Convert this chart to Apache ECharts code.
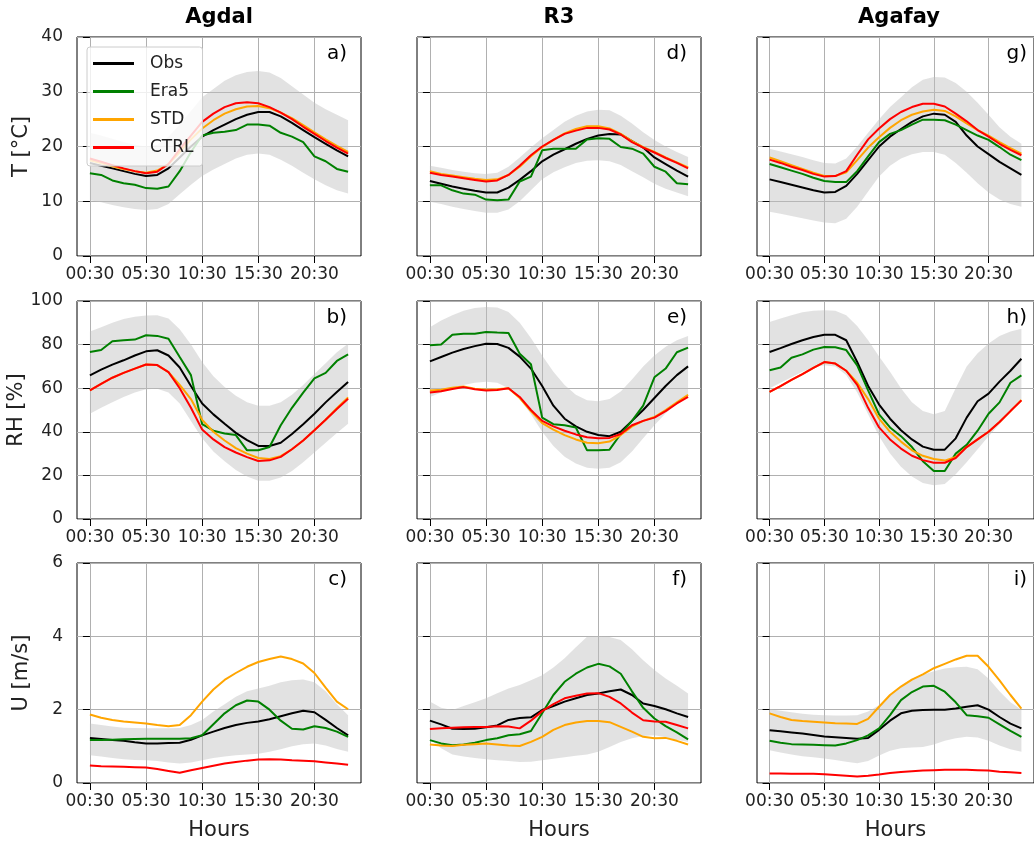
<!DOCTYPE html>
<html>
<head>
<meta charset="utf-8">
<script src="https://cdn.jsdelivr.net/npm/echarts@6/dist/echarts.min.js"></script>
<style>
html, body { margin: 0; padding: 0; background: #fff; }
#chart { width: 1034px; height: 845px; }
</style>
</head>
<body>
<div id="chart"></div>
<script>
// heures (pas horaire, 24 valeurs)
var hours = ['00:30', '01:30', '02:30', '03:30', '04:30', '05:30', '06:30', '07:30', '08:30', '09:30', '10:30', '11:30',
             '12:30', '13:30', '14:30', '15:30', '16:30', '17:30', '18:30', '19:30', '20:30', '21:30', '22:30', '23:30'];
var hourTicks = [0, 5, 10, 15, 20];
var sites = ['Agdal', 'R3', 'Agafay'];
var panelTags = [['a)', 'b)', 'c)'], ['d)', 'e)', 'f)'], ['g)', 'h)', 'i)']];
var seriesNames = ['Obs', 'Era5', 'STD', 'CTRL'];

// ---- Temperature ----
var agdalT_obs  = [17.0, 16.5, 16.0, 15.5, 15.0, 14.6, 14.8, 16.0, 18.0, 20.0, 21.8, 23.0, 24.0, 25.0, 25.8, 26.3, 26.3, 25.5, 24.3, 23.0, 21.7, 20.5, 19.3, 18.2];
var agdalT_era5 = [15.1, 14.8, 13.8, 13.3, 13.0, 12.4, 12.3, 12.7, 15.5, 19.0, 22.0, 22.5, 22.7, 23.0, 24.0, 24.0, 23.8, 22.5, 21.8, 20.8, 18.2, 17.3, 15.9, 15.4];
var agdalT_std  = [17.5, 17.0, 16.4, 15.9, 15.5, 15.2, 15.6, 16.8, 19.0, 21.3, 23.3, 24.8, 26.0, 26.8, 27.3, 27.4, 27.0, 26.2, 25.2, 23.9, 22.6, 21.3, 20.1, 19.0];
var agdalT_ctrl = [17.8, 17.2, 16.6, 16.0, 15.5, 15.1, 15.4, 16.8, 19.5, 22.0, 24.5, 26.0, 27.2, 27.9, 28.1, 27.9, 27.2, 26.2, 25.0, 23.6, 22.3, 21.0, 19.8, 18.7];
var agdalT_low  = [10.2, 9.8, 9.3, 8.9, 8.6, 8.4, 8.6, 9.5, 11.3, 13.0, 14.6, 15.8, 16.8, 17.8, 18.5, 18.7, 18.5, 17.6, 16.5, 15.2, 14.0, 12.9, 12.0, 11.4];
var agdalT_high = [22.5, 22.0, 21.4, 20.8, 20.3, 20.0, 20.3, 21.8, 24.0, 26.5, 29.0, 30.5, 32.0, 33.0, 33.6, 33.8, 33.5, 32.5, 31.0, 29.5, 28.0, 26.8, 25.8, 24.8];

var r3T_obs  = [13.7, 13.2, 12.7, 12.3, 11.9, 11.6, 11.6, 12.5, 13.9, 15.5, 17.3, 18.5, 19.5, 20.5, 21.4, 22.0, 22.3, 22.2, 21.0, 19.8, 18.0, 16.8, 15.6, 14.5];
var r3T_era5 = [12.9, 12.9, 12.0, 11.4, 11.2, 10.3, 10.2, 10.3, 13.6, 14.5, 19.3, 19.6, 19.6, 19.6, 21.3, 21.5, 21.4, 19.9, 19.6, 18.7, 16.3, 15.4, 13.3, 13.1];
var r3T_std  = [15.5, 15.0, 14.7, 14.4, 14.1, 13.9, 14.0, 14.8, 16.3, 18.2, 19.9, 21.2, 22.4, 23.2, 23.7, 23.7, 23.3, 22.3, 21.0, 19.9, 19.0, 18.0, 17.1, 16.2];
var r3T_ctrl = [15.2, 14.8, 14.5, 14.2, 13.9, 13.6, 13.8, 14.8, 16.5, 18.4, 20.0, 21.2, 22.3, 22.9, 23.4, 23.4, 23.1, 22.2, 20.8, 19.8, 18.9, 17.9, 17.0, 16.0];
var r3T_low  = [9.9, 9.5, 9.0, 8.6, 8.2, 7.9, 7.9, 8.5, 10.0, 12.0, 14.0, 15.3, 16.2, 17.0, 17.4, 17.5, 17.3, 16.6, 15.5, 14.4, 13.2, 12.3, 11.6, 10.9];
var r3T_high = [16.5, 16.1, 15.7, 15.4, 15.1, 15.0, 15.2, 16.3, 18.0, 19.8, 21.5, 23.0, 24.5, 25.6, 26.4, 26.7, 26.6, 25.6, 24.2, 22.6, 21.2, 20.0, 19.0, 18.1];

var agafayT_obs  = [14.0, 13.5, 13.0, 12.5, 12.0, 11.6, 11.7, 12.8, 15.0, 17.5, 20.0, 21.8, 23.2, 24.5, 25.5, 26.0, 25.8, 24.5, 22.0, 20.0, 18.6, 17.2, 16.0, 14.8];
var agafayT_era5 = [16.8, 16.2, 15.6, 15.0, 14.3, 13.7, 13.5, 13.5, 15.5, 18.2, 20.8, 22.3, 23.0, 24.0, 24.9, 24.9, 24.8, 24.0, 23.0, 22.0, 21.2, 19.9, 18.5, 17.5];
var agafayT_std  = [18.0, 17.3, 16.6, 15.9, 15.2, 14.6, 14.6, 15.3, 17.5, 19.8, 21.7, 23.4, 24.8, 25.8, 26.4, 26.7, 26.5, 25.5, 24.2, 23.0, 22.0, 20.8, 19.7, 18.7];
var agafayT_ctrl = [17.6, 17.0, 16.3, 15.7, 15.0, 14.5, 14.6, 15.5, 18.5, 21.3, 23.3, 25.0, 26.3, 27.2, 27.8, 27.8, 27.3, 26.0, 24.6, 23.0, 21.8, 20.5, 19.4, 18.4];
var agafayT_low  = [8.1, 7.7, 7.3, 6.9, 6.5, 6.1, 6.0, 6.8, 9.0, 11.8, 14.5, 16.5, 17.8, 18.6, 19.0, 19.0, 18.5, 17.0, 15.2, 13.3, 11.6, 10.3, 9.5, 9.0];
var agafayT_high = [19.6, 19.1, 18.6, 18.1, 17.5, 17.0, 16.9, 17.8, 20.0, 22.5, 25.0, 27.2, 29.0, 30.8, 32.2, 32.7, 32.6, 31.6, 30.0, 28.0, 25.8, 23.5, 21.8, 20.5];

// ---- Humidite relative ----
var agdalRH_obs  = [65.9, 68.5, 70.8, 72.8, 75.0, 76.9, 77.4, 75.0, 69.5, 61.0, 53.0, 48.0, 43.7, 39.5, 36.2, 33.5, 33.5, 35.0, 39.0, 43.5, 48.3, 53.5, 58.3, 62.8];
var agdalRH_era5 = [76.6, 77.5, 81.5, 82.0, 82.3, 84.3, 84.0, 82.7, 74.3, 66.0, 43.5, 40.5, 39.2, 38.5, 31.5, 31.5, 33.0, 43.0, 51.0, 58.0, 64.5, 67.0, 72.5, 75.5];
var agdalRH_std  = [59.0, 62.0, 64.8, 67.0, 69.0, 70.9, 70.6, 67.4, 61.5, 55.0, 45.5, 40.0, 36.0, 32.5, 30.0, 28.0, 27.5, 28.8, 32.0, 36.0, 40.7, 45.5, 50.8, 55.8];
var agdalRH_ctrl = [59.0, 62.0, 64.8, 67.0, 69.0, 70.9, 70.6, 67.4, 60.0, 51.0, 41.0, 36.5, 33.0, 30.5, 28.4, 26.6, 26.9, 28.5, 32.0, 36.0, 40.7, 45.5, 50.5, 55.2];
var agdalRH_low  = [48.3, 51.0, 53.5, 56.0, 58.0, 59.5, 59.8, 58.0, 53.0, 45.0, 37.0, 31.0, 26.5, 22.5, 19.5, 17.5, 17.5, 19.0, 22.0, 26.0, 30.5, 35.0, 39.5, 43.7];
var agdalRH_high = [86.0, 88.0, 90.0, 91.8, 92.8, 93.4, 93.5, 92.0, 87.0, 80.0, 72.0, 65.5, 60.5, 56.5, 53.5, 52.0, 52.0, 53.5, 57.0, 61.5, 66.5, 71.5, 76.5, 80.4];

var r3RH_obs  = [72.3, 74.3, 76.3, 78.0, 79.3, 80.4, 80.3, 78.5, 74.5, 69.0, 61.0, 52.0, 46.0, 42.5, 40.0, 38.5, 38.0, 40.0, 45.0, 50.0, 55.5, 61.0, 66.0, 70.0];
var r3RH_era5 = [79.7, 80.0, 84.5, 85.0, 85.0, 85.8, 85.5, 85.3, 75.8, 71.0, 46.5, 43.5, 43.0, 42.0, 31.5, 31.5, 31.8, 39.0, 45.0, 52.0, 65.0, 69.0, 76.5, 78.6];
var r3RH_std  = [59.0, 59.3, 60.2, 60.8, 59.8, 59.3, 59.5, 60.0, 55.5, 49.5, 44.0, 41.0, 38.5, 36.5, 35.0, 34.8, 35.5, 38.5, 42.5, 45.0, 46.8, 50.0, 53.5, 57.0];
var r3RH_ctrl = [58.0, 58.6, 59.6, 60.5, 59.5, 59.0, 59.2, 60.0, 56.0, 50.0, 45.0, 42.5, 40.5, 38.8, 37.5, 37.0, 37.2, 39.0, 43.0, 45.0, 46.5, 49.5, 53.0, 56.0];
var r3RH_low  = [56.0, 58.0, 60.0, 61.5, 62.5, 63.0, 62.5, 60.0, 55.0, 48.0, 40.0, 33.5, 28.5, 25.5, 23.5, 23.0, 23.5, 26.0, 31.0, 37.0, 43.0, 48.5, 53.0, 56.5];
var r3RH_high = [88.0, 91.0, 93.5, 95.5, 96.8, 97.2, 97.0, 95.0, 90.0, 83.0, 75.0, 67.5, 61.5, 57.0, 54.5, 54.0, 55.0, 58.5, 64.0, 70.0, 75.0, 79.0, 82.0, 84.0];

var agafayRH_obs  = [76.6, 78.4, 80.3, 82.0, 83.5, 84.5, 84.5, 82.0, 72.0, 61.0, 52.5, 46.0, 40.7, 36.5, 33.2, 31.8, 31.8, 37.0, 46.5, 54.0, 57.5, 63.0, 68.0, 73.5];
var agafayRH_era5 = [68.2, 69.5, 74.0, 75.5, 77.7, 78.9, 78.8, 77.5, 70.5, 59.0, 48.0, 42.0, 38.0, 33.0, 26.5, 22.0, 22.0, 30.0, 34.0, 40.5, 48.3, 53.5, 62.5, 65.9];
var agafayRH_std  = [58.3, 61.0, 63.8, 66.5, 69.3, 72.0, 71.3, 68.0, 62.5, 55.0, 46.0, 40.0, 35.5, 31.5, 29.0, 27.5, 26.8, 28.5, 33.0, 36.5, 40.0, 44.5, 49.5, 54.6];
var agafayRH_ctrl = [58.3, 61.0, 63.8, 66.5, 69.3, 72.0, 71.3, 68.0, 61.5, 51.0, 42.0, 36.5, 32.3, 29.0, 27.0, 25.8, 25.8, 28.0, 33.0, 36.5, 40.0, 44.5, 49.5, 54.4];
var agafayRH_low  = [60.0, 62.5, 65.0, 67.5, 69.5, 70.5, 70.0, 66.0, 58.0, 48.0, 38.0, 30.0, 24.0, 19.5, 16.5, 15.5, 16.0, 20.5, 26.0, 32.0, 38.0, 43.5, 49.0, 54.5];
var agafayRH_high = [90.4, 92.0, 93.5, 94.8, 95.5, 95.8, 95.5, 93.5, 88.5, 82.0, 74.5, 67.5, 60.0, 53.5, 49.5, 48.0, 49.5, 60.0, 70.0, 76.0, 80.5, 84.0, 86.0, 87.3];

// ---- Vent ----
var agdalU_obs  = [1.23, 1.20, 1.17, 1.15, 1.11, 1.08, 1.08, 1.09, 1.10, 1.18, 1.30, 1.40, 1.50, 1.58, 1.64, 1.68, 1.74, 1.82, 1.90, 1.97, 1.93, 1.72, 1.50, 1.30];
var agdalU_era5 = [1.17, 1.17, 1.18, 1.19, 1.20, 1.21, 1.21, 1.21, 1.21, 1.22, 1.30, 1.60, 1.90, 2.12, 2.25, 2.22, 2.00, 1.70, 1.48, 1.46, 1.55, 1.50, 1.40, 1.26];
var agdalU_std  = [1.87, 1.78, 1.72, 1.68, 1.65, 1.62, 1.58, 1.55, 1.58, 1.85, 2.22, 2.55, 2.81, 3.00, 3.17, 3.30, 3.38, 3.45, 3.38, 3.26, 3.00, 2.60, 2.22, 2.01];
var agdalU_ctrl = [0.48, 0.46, 0.45, 0.44, 0.43, 0.42, 0.38, 0.33, 0.28, 0.35, 0.41, 0.47, 0.53, 0.57, 0.61, 0.64, 0.65, 0.64, 0.62, 0.61, 0.59, 0.56, 0.53, 0.50];
var agdalU_low  = [0.76, 0.72, 0.68, 0.65, 0.63, 0.62, 0.60, 0.56, 0.53, 0.56, 0.62, 0.68, 0.72, 0.76, 0.78, 0.80, 0.85, 0.92, 1.00, 1.06, 1.08, 1.02, 0.93, 0.85];
var agdalU_high = [1.62, 1.58, 1.54, 1.51, 1.50, 1.49, 1.49, 1.49, 1.50, 1.58, 1.72, 1.95, 2.15, 2.35, 2.50, 2.58, 2.65, 2.75, 2.80, 2.82, 2.75, 2.50, 2.15, 1.85];

var r3U_obs  = [1.70, 1.60, 1.48, 1.47, 1.48, 1.52, 1.57, 1.72, 1.77, 1.79, 1.99, 2.10, 2.22, 2.31, 2.40, 2.44, 2.50, 2.55, 2.40, 2.17, 2.10, 2.01, 1.90, 1.80];
var r3U_era5 = [1.17, 1.08, 1.03, 1.05, 1.10, 1.17, 1.22, 1.30, 1.33, 1.42, 1.90, 2.40, 2.76, 2.98, 3.15, 3.25, 3.18, 2.98, 2.50, 2.05, 1.76, 1.55, 1.38, 1.19];
var r3U_std  = [1.05, 1.02, 1.01, 1.04, 1.06, 1.08, 1.05, 1.02, 1.01, 1.12, 1.26, 1.45, 1.58, 1.65, 1.69, 1.69, 1.66, 1.53, 1.40, 1.26, 1.22, 1.23, 1.15, 1.05];
var r3U_ctrl = [1.47, 1.49, 1.51, 1.52, 1.53, 1.53, 1.55, 1.54, 1.49, 1.70, 1.96, 2.15, 2.31, 2.38, 2.44, 2.45, 2.35, 2.17, 1.92, 1.71, 1.68, 1.67, 1.58, 1.49];
var r3U_low  = [1.20, 0.95, 0.78, 0.72, 0.68, 0.65, 0.62, 0.60, 0.57, 0.58, 0.62, 0.66, 0.70, 0.74, 0.78, 0.85, 0.98, 1.12, 1.22, 1.28, 1.30, 1.25, 1.18, 1.12];
var r3U_high = [2.22, 2.05, 1.99, 2.10, 2.20, 2.31, 2.45, 2.58, 2.67, 2.80, 2.94, 3.15, 3.40, 3.70, 3.99, 4.00, 3.98, 3.90, 3.65, 3.35, 3.08, 2.85, 2.65, 2.44];

var agafayU_obs  = [1.44, 1.41, 1.38, 1.35, 1.31, 1.27, 1.25, 1.23, 1.21, 1.23, 1.45, 1.70, 1.90, 1.97, 1.99, 2.00, 2.00, 2.03, 2.08, 2.12, 2.00, 1.80, 1.62, 1.49];
var agafayU_era5 = [1.15, 1.10, 1.06, 1.05, 1.04, 1.03, 1.02, 1.08, 1.17, 1.30, 1.49, 1.85, 2.26, 2.48, 2.63, 2.65, 2.49, 2.20, 1.85, 1.82, 1.78, 1.60, 1.42, 1.26];
var agafayU_std  = [1.90, 1.80, 1.72, 1.69, 1.67, 1.65, 1.63, 1.62, 1.61, 1.75, 2.08, 2.40, 2.63, 2.82, 2.96, 3.13, 3.25, 3.37, 3.47, 3.47, 3.17, 2.80, 2.40, 2.03];
var agafayU_ctrl = [0.26, 0.26, 0.25, 0.25, 0.25, 0.24, 0.22, 0.20, 0.18, 0.20, 0.23, 0.27, 0.30, 0.32, 0.34, 0.35, 0.36, 0.36, 0.36, 0.35, 0.34, 0.31, 0.29, 0.27];
var agafayU_low  = [0.89, 0.83, 0.78, 0.73, 0.70, 0.67, 0.63, 0.58, 0.54, 0.60, 0.75, 0.88, 0.95, 0.97, 0.98, 1.05, 1.15, 1.22, 1.26, 1.24, 1.15, 1.02, 0.92, 0.85];
var agafayU_high = [2.01, 1.97, 1.93, 1.89, 1.86, 1.85, 1.84, 1.84, 1.85, 1.95, 2.12, 2.40, 2.65, 2.85, 2.95, 3.05, 3.12, 3.16, 3.17, 3.10, 2.85, 2.50, 2.20, 2.00];

// panneaux [colonne][ligne] : obs, era5, std, ctrl, bande basse, bande haute
var panels = [
    [[agdalT_obs, agdalT_era5, agdalT_std, agdalT_ctrl, agdalT_low, agdalT_high],
     [agdalRH_obs, agdalRH_era5, agdalRH_std, agdalRH_ctrl, agdalRH_low, agdalRH_high],
     [agdalU_obs, agdalU_era5, agdalU_std, agdalU_ctrl, agdalU_low, agdalU_high]],
    [[r3T_obs, r3T_era5, r3T_std, r3T_ctrl, r3T_low, r3T_high],
     [r3RH_obs, r3RH_era5, r3RH_std, r3RH_ctrl, r3RH_low, r3RH_high],
     [r3U_obs, r3U_era5, r3U_std, r3U_ctrl, r3U_low, r3U_high]],
    [[agafayT_obs, agafayT_era5, agafayT_std, agafayT_ctrl, agafayT_low, agafayT_high],
     [agafayRH_obs, agafayRH_era5, agafayRH_std, agafayRH_ctrl, agafayRH_low, agafayRH_high],
     [agafayU_obs, agafayU_era5, agafayU_std, agafayU_ctrl, agafayU_low, agafayU_high]]
];

var rowNames = ['T [°C]', 'RH [%]', 'U [m/s]'];
var rowMax = [40, 100, 6];
var rowStep = [10, 20, 2];

// mise en page
var FONT = 'DejaVu Sans';
var colors = ['#000000', '#008000', '#ffa500', '#ff0000'];
var gridLeft = [77, 417, 757];
var gridTop = [37, 301, 563];
var gridH = [219, 218, 220];
var gridW = 284;

function pairs(arr) {
    return arr.map(function (v, i) { return [i, v]; });
}

// polygone de la bande grise, calcule via les axes
function bandRenderer(low, high) {
    return function (params, api) {
        if (params.dataIndex !== 0) return;
        var pts = [];
        for (var i = 0; i < high.length; i++) pts.push(api.coord([i, high[i]]));
        for (var j = low.length - 1; j >= 0; j--) pts.push(api.coord([j, low[j]]));
        return {
            type: 'polygon',
            shape: { points: pts },
            style: { fill: 'rgba(190,190,190,0.45)', stroke: null }
        };
    };
}

var grids = [], xAxes = [], yAxes = [], series = [], graphics = [];

for (var c = 0; c < 3; c++) {
    graphics.push({
        type: 'text', x: gridLeft[c] + gridW / 2, y: 18,
        style: { text: sites[c], font: 'bold 21px "' + FONT + '"', fill: '#000',
                 textAlign: 'center', textVerticalAlign: 'middle', align: 'center', verticalAlign: 'middle' }
    });
    for (var r = 0; r < 3; r++) {
        var gi = grids.length;
        var d = panels[c][r];
        grids.push({
            left: gridLeft[c], top: gridTop[r], width: gridW, height: gridH[r],
            show: true, borderColor: '#000', borderWidth: 1, backgroundColor: 'transparent'
        });
        xAxes.push({
            gridIndex: gi, type: 'value', min: -1.15, max: 24.15,
            name: r === 2 ? 'Hours' : '', nameLocation: 'middle', nameGap: 37,
            nameTextStyle: { fontSize: 21, color: '#222', fontFamily: FONT },
            axisLine: { show: false },
            axisTick: { show: true, length: 7, customValues: hourTicks, lineStyle: { color: '#000' } },
            axisLabel: {
                customValues: hourTicks, margin: 10, fontSize: 17, color: '#222', fontFamily: FONT,
                formatter: function (v) { return hours[Math.round(v)]; }
            },
            splitLine: { show: true, lineStyle: { color: '#b0b0b0', width: 1 } }
        });
        yAxes.push({
            gridIndex: gi, type: 'value', min: 0, max: rowMax[r], interval: rowStep[r],
            name: c === 0 ? rowNames[r] : '', nameLocation: 'middle', nameGap: 45,
            nameTextStyle: { fontSize: 21, color: '#222', fontFamily: FONT },
            axisLine: { show: false },
            axisTick: { show: true, length: 7, lineStyle: { color: '#000' } },
            axisLabel: { show: c === 0, margin: 14, fontSize: 17, color: '#222', fontFamily: FONT },
            splitLine: { show: true, lineStyle: { color: '#b0b0b0', width: 1 } }
        });
        series.push({
            name: 'band' + gi, type: 'custom', xAxisIndex: gi, yAxisIndex: gi, silent: true,
            data: d[4].map(function (v, i) { return [i, v]; }),
            encode: { x: 0, y: 1 },
            renderItem: bandRenderer(d[4], d[5])
        });
        for (var k = 0; k < 4; k++) {
            series.push({
                name: seriesNames[k], type: 'line', xAxisIndex: gi, yAxisIndex: gi,
                data: pairs(d[k]), symbol: 'none', color: colors[k],
                lineStyle: { color: colors[k], width: 2 }
            });
        }
        graphics.push({
            type: 'text', x: gridLeft[c] + gridW - 14, y: gridTop[r] + 17,
            style: { text: panelTags[c][r], font: '20px "' + FONT + '"', fill: '#000',
                     textAlign: 'right', textVerticalAlign: 'middle', align: 'right', verticalAlign: 'middle' }
        });
    }
}

var myChart = echarts.init(document.getElementById('chart'));
var option = {
    animation: false,
    backgroundColor: '#fff',
    grid: grids,
    xAxis: xAxes,
    yAxis: yAxes,
    legend: {
        data: seriesNames, orient: 'vertical', left: 87, top: 47,
        icon: 'rect', itemWidth: 41, itemHeight: 3, itemGap: 11,
        padding: [8, 9, 10, 6],
        backgroundColor: 'rgba(255,255,255,0.8)', borderColor: '#cccccc', borderWidth: 1, borderRadius: 3,
        textStyle: { fontSize: 17, color: '#222', fontFamily: FONT, padding: [0, 0, 0, 11] }
    },
    graphic: graphics,
    series: series
};
myChart.setOption(option);
</script>
</body>
</html>
